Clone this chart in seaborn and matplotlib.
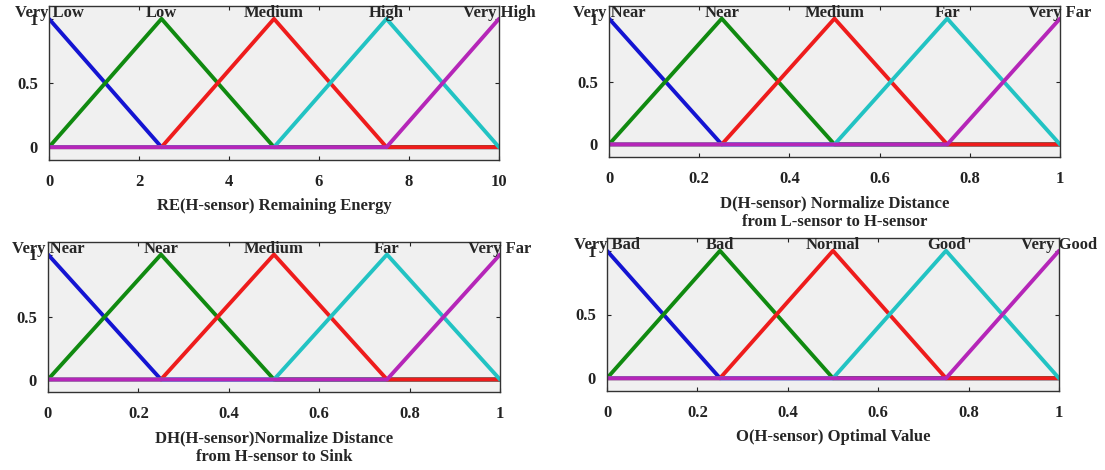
import numpy as np
import pandas as pd
import matplotlib
matplotlib.use("Agg")
import matplotlib.pyplot as plt
import seaborn as sns

# membership function peaks (triangular, evenly spaced)
re_peaks = [0, 2.5, 5, 7.5, 10]
re_names = ["Very Low", "Low", "Medium", "High", "Very High"]
re_ticks = [0, 2, 4, 6, 8, 10]
re_ticklabels = ["0", "2", "4", "6", "8", "10"]

d_peaks = [0, 0.25, 0.5, 0.75, 1]
d_names = ["Very Near", "Near", "Medium", "Far", "Very Far"]

dh_peaks = [0, 0.25, 0.5, 0.75, 1]
dh_names = ["Very Near", "Near", "Medium", "Far", "Very Far"]

o_peaks = [0, 0.25, 0.5, 0.75, 1]
o_names = ["Very Bad", "Bad", "Normal", "Good", "Very Good"]

unit_ticks = [0, 0.2, 0.4, 0.6, 0.8, 1]
unit_ticklabels = ["0", "0.2", "0.4", "0.6", "0.8", "1"]

y_ticks = [0, 0.5, 1]
y_ticklabels = ["0", "0.5", "1"]

mf_colors = ["#1414d2", "#108a10", "#ee1c1c", "#22c3c3", "#b526b8"]

sns.set_style("ticks")
plt.rcParams["font.family"] = ["Liberation Serif", "DejaVu Serif"]
plt.rcParams["font.weight"] = "bold"
plt.rcParams["axes.labelweight"] = "bold"


def mf_frame(peaks):
    # vertices of each triangle (a, b, c) with zero tails to the range ends
    lo, hi = peaks[0], peaks[-1]
    step = peaks[1] - peaks[0]
    rows = []
    for i, b in enumerate(peaks):
        a, c = b - step, b + step
        pts = []
        if a > lo:
            pts.append((lo, 0.0))
        pts += [(a, 0.0), (b, 1.0), (c, 0.0)]
        if c < hi:
            pts.append((hi, 0.0))
        for j, (x, y) in enumerate(pts):
            rows.append({"mf": i, "order": j, "x": x, "y": y})
    return pd.DataFrame(rows)


def draw_panel(ax, peaks, names, ticks, ticklabels, xlabel):
    df = mf_frame(peaks)
    for i in range(len(peaks)):
        sub = df[df["mf"] == i]
        sns.lineplot(data=sub, x="x", y="y", sort=False, estimator=None,
                     color=mf_colors[i], lw=2.8, ax=ax, legend=False)
    for b, name in zip(peaks, names):
        ax.text(b, 1.015, name, ha="center", va="baseline",
                fontsize=12, fontweight="bold", zorder=10)
    ax.set_facecolor("#f0f0f0")
    ax.set_xlim(peaks[0], peaks[-1])
    ax.set_ylim(-0.1, 1.1)
    ax.set_xticks(ticks)
    ax.set_xticklabels(ticklabels)
    ax.set_yticks(y_ticks)
    ax.set_yticklabels(y_ticklabels)
    ax.tick_params(direction="in", length=3, width=0.8, top=True, right=True,
                   labelsize=12, colors="#222222")
    ax.tick_params(axis="x", pad=10)
    ax.tick_params(axis="y", pad=8)
    for sp in ax.spines.values():
        sp.set_visible(True)
        sp.set_linewidth(1.0)
        sp.set_color("#333333")
    ax.set_xlabel(xlabel, fontsize=12, fontweight="bold", labelpad=6,
                  linespacing=1.25)
    ax.set_ylabel("")


fig = plt.figure(figsize=(11.05, 4.70), dpi=100)
W, H = 1105.0, 470.0


def add_axes(left, right, top, bottom):
    return fig.add_axes([left / W, 1 - bottom / H, (right - left) / W,
                         (bottom - top) / H])


ax_re = add_axes(49, 499, 6, 160)
ax_d = add_axes(609, 1060, 6, 157)
ax_dh = add_axes(48, 500, 242, 392)
ax_o = add_axes(607, 1059, 238, 391)

draw_panel(ax_re, re_peaks, re_names, re_ticks, re_ticklabels,
           "RE(H-sensor) Remaining Energy")
draw_panel(ax_d, d_peaks, d_names, unit_ticks, unit_ticklabels,
           "D(H-sensor) Normalize Distance\nfrom L-sensor to H-sensor")
draw_panel(ax_dh, dh_peaks, dh_names, unit_ticks, unit_ticklabels,
           "DH(H-sensor)Normalize Distance\nfrom H-sensor to Sink")
draw_panel(ax_o, o_peaks, o_names, unit_ticks, unit_ticklabels,
           "O(H-sensor) Optimal Value")

fig.savefig("out.png", dpi=100, facecolor="white")
